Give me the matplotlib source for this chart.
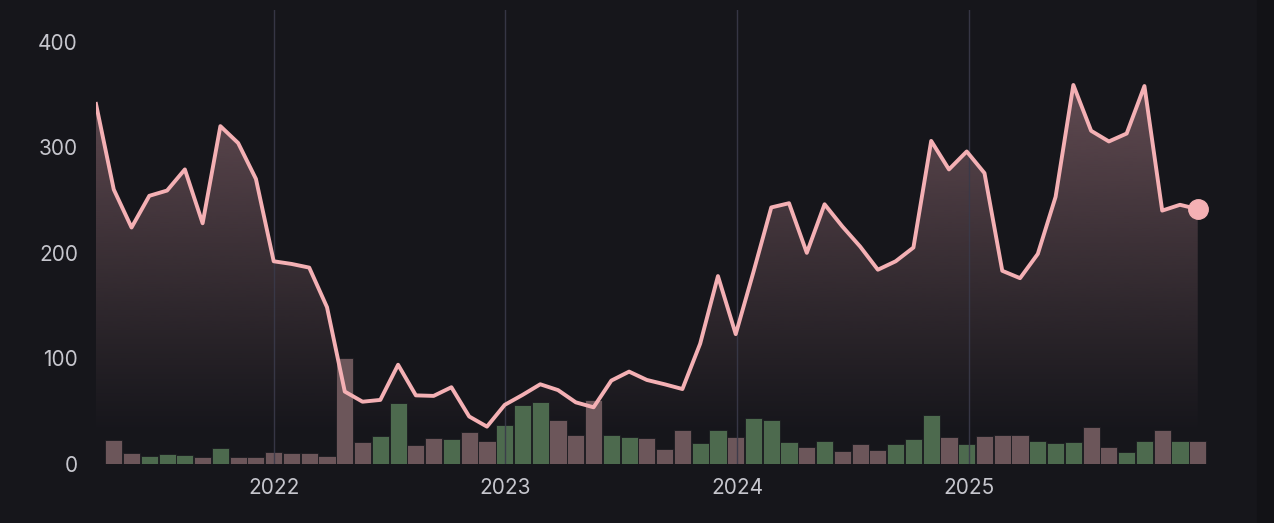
import numpy as np
import pandas as pd
import matplotlib
matplotlib.use("Agg")
import matplotlib.pyplot as plt
import matplotlib.dates as mdates
from matplotlib.patches import Rectangle

# ---------------------------------------------------------------------------
# data: 28-day periods, line = level, bars = volume per period
# ---------------------------------------------------------------------------
periods = pd.date_range("2021-03-27", periods=63, freq="28D")

level = [341, 260, 224, 254, 259, 279, 228, 320, 304, 270,
         192, 189.5, 186, 148.5, 68.6, 59, 60.7, 94, 65, 64.5,
         72.7, 45, 35.4, 56, 65.4, 75.5, 70, 58.4, 53.7, 79,
         87.5, 79.6, 75.5, 71, 114, 178, 123, 182, 243, 247,
         200, 246, 225, 206, 184, 192, 205, 306, 279, 296,
         275.5, 183, 176, 199, 253, 359, 315.6, 305.5, 313, 358,
         240, 245.5, 241.4]

# volume bars start at the second period
volume = [22.7, 10, 7.6, 9.5, 8.5, 7, 14.8, 6.3, 6.3, 11,
          10, 10.7, 8, 100, 21, 26.5, 58, 18, 24.6, 24,
          30, 21.8, 37, 56, 58.4, 41.7, 27.5, 60.7, 27.5, 26,
          25, 14, 32, 19.6, 32, 26, 44, 41.7, 20.5, 16.4,
          21.8, 12.3, 19, 13.3, 19, 23.4, 46.8, 25.3, 19, 26.5,
          27.5, 27.5, 21.5, 19.6, 20.5, 35.4, 16.4, 11, 21.8, 32,
          21.8, 21.8]

year_marks = ["2022-01-01", "2023-01-01", "2024-01-01", "2025-01-01"]
year_labels = ["2022", "2023", "2024", "2025"]
y_ticks = [0, 100, 200, 300, 400]

# ---------------------------------------------------------------------------
BG = "#16161b"
INK = "#c6c6cd"
LINE = "#f4b0b4"
UP = "#4d6a4e"
DOWN = "#6c565a"
GRID = "#3a3a4a"

plt.rcParams["font.family"] = ["Inter", "DejaVu Sans"]

W, H = 1274, 523
fig = plt.figure(figsize=(W / 100, H / 100), dpi=100, facecolor=BG)
fig.patches.append(Rectangle((1257 / W, 0), 1, 1, transform=fig.transFigure,
                             color="#121216", zorder=-10))

ax_left, ax_right, ax_top, ax_bot = 96, 1230, 10, 464
ax = fig.add_axes([ax_left / W, (H - ax_bot) / H,
                   (ax_right - ax_left) / W, (ax_bot - ax_top) / H])
ax.set_facecolor(BG)

x = mdates.date2num(periods.to_pydatetime())
px_per_day = 17.77 / 28
ax.set_xlim(x[0], x[0] + (ax_right - ax_left) / px_per_day)
ax.set_ylim(0, 430)

# gradient fill under the line
poly = ax.fill_between(x, level, 0, color="none", lw=0)
grad = np.linspace(0, 1, 256)
rgba = np.zeros((256, 1, 4))
rgba[..., :3] = matplotlib.colors.to_rgb("#8e6a72")
alpha = np.clip((grad * 430 - 25) / 350, 0, 1) ** 1.1 * 0.66
rgba[..., 3] = alpha[:, None]
img = ax.imshow(rgba, extent=[x[0], x[-1], 0, 430], origin="lower",
                aspect="auto", zorder=1, interpolation="bicubic")
img.set_clip_path(poly.get_paths()[0], transform=ax.transData)

# volume bars, coloured by direction of the level
bar_cols = [UP if level[i] > level[i - 1] else DOWN for i in range(1, len(level))]
ax.bar(x[1:], volume, width=27, color=bar_cols, edgecolor="#1b1b20",
       linewidth=0.6, zorder=2)

# year separators
for d in year_marks:
    ax.axvline(mdates.datestr2num(d), color=GRID, lw=1, zorder=2.5, alpha=0.9)

ax.plot(x, level, color=LINE, lw=2.8, zorder=3, solid_joinstyle="round")
ax.plot(x[-1], level[-1], "o", ms=14, color=LINE, zorder=4)

ax.set_yticks(y_ticks)
ax.set_xticks([mdates.datestr2num(d) for d in year_marks])
ax.set_xticklabels(year_labels)
ax.tick_params(length=0, colors=INK, labelsize=15)
ax.tick_params(axis="y", pad=13)
ax.tick_params(axis="x", pad=10)
for s in ax.spines.values():
    s.set_visible(False)

fig.savefig("out.png", dpi=100, facecolor=BG)
